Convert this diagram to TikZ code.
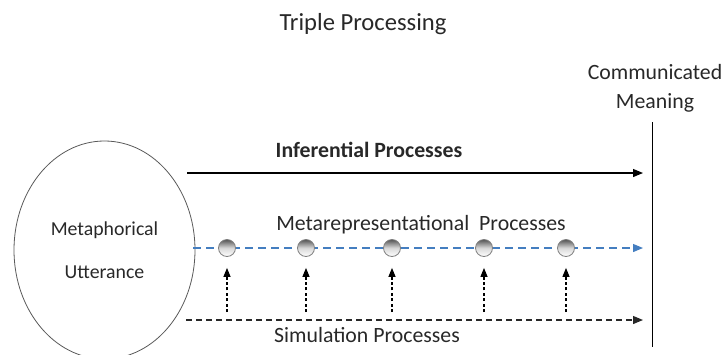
\documentclass[tikz,border=0pt]{standalone}
\usepackage{fontspec}
\setmainfont{Carlito}
\usetikzlibrary{arrows.meta}
\usetikzlibrary{shapes.geometric}
\definecolor{metablue}{RGB}{68,126,192}
\definecolor{darkline}{RGB}{40,40,40}

\begin{document}
\begin{tikzpicture}[x=0.5pt,y=-0.5pt,
		every node/.style={font=\fontsize{10.9}{12.5}\selectfont,text=darkline},
		proc/.style={-{Triangle[length=5pt,width=4pt]},semithick},
		ball/.style={circle,draw=gray,minimum size=8.5pt,inner sep=0pt,top color=gray!65!black,bottom color=white,middle color=gray!30},
		up/.style={-{Triangle[length=4.5pt,width=3.5pt]},dash pattern=on 1.5pt off 1.2pt,semithick,shorten >=5.5pt}]
		\useasboundingbox (0,0) rectangle (723,354);
		
		\node[font=\fontsize{12.3}{14}\selectfont] (title) at (363,24) {Triple Processing};
		\node[draw=gray!70!black,ellipse,minimum width=90.5pt,minimum height=109pt,align=center,
			font=\fontsize{9.9}{12}\selectfont] (utt) at (104.5,250)
			{Metaphorical\\[9.5pt]Utterance};
		\node[align=center,font=\fontsize{10.9}{14.5}\selectfont] (cm) at (655,88) {Communicated\\Meaning};
		
		% end line
		\coordinate (mt) at (652,122);
		\coordinate (mb) at (652,347);
		\draw (mt) -- (mb);
		
		% inferential
		\coordinate (i0) at (187,173);
		\coordinate (i1) at (643,173);
		\draw[proc] (i0) -- (i1);
		\node[font=\fontsize{10.9}{12.5}\selectfont\bfseries] (inf) at (369,150) {Inferential Processes};
		
		% metarepresentational
		\coordinate (m0) at (193,248);
		\coordinate (m1) at (643,248);
		\draw[proc,metablue,dash pattern=on 4pt off 2.5pt] (m0) -- (m1);
		\node (meta) at (421,225) {Metarepresentational~~Processes};
		
		% simulation
		\coordinate (s0) at (186,320);
		\coordinate (s1) at (643,320);
		\draw[proc,darkline,dash pattern=on 3pt off 2pt] (s0) -- (s1);
		\node (sim) at (367,335) {Simulation Processes};
		
		\foreach \x [count=\i] in {227,306,392,484,566} {
			\node[ball] (b\i) at (\x,248) {};
			\coordinate (u\i) at (\x,312);
			\draw[up] (u\i) -- (b\i.south);
		}
	\end{tikzpicture}
\end{document}
